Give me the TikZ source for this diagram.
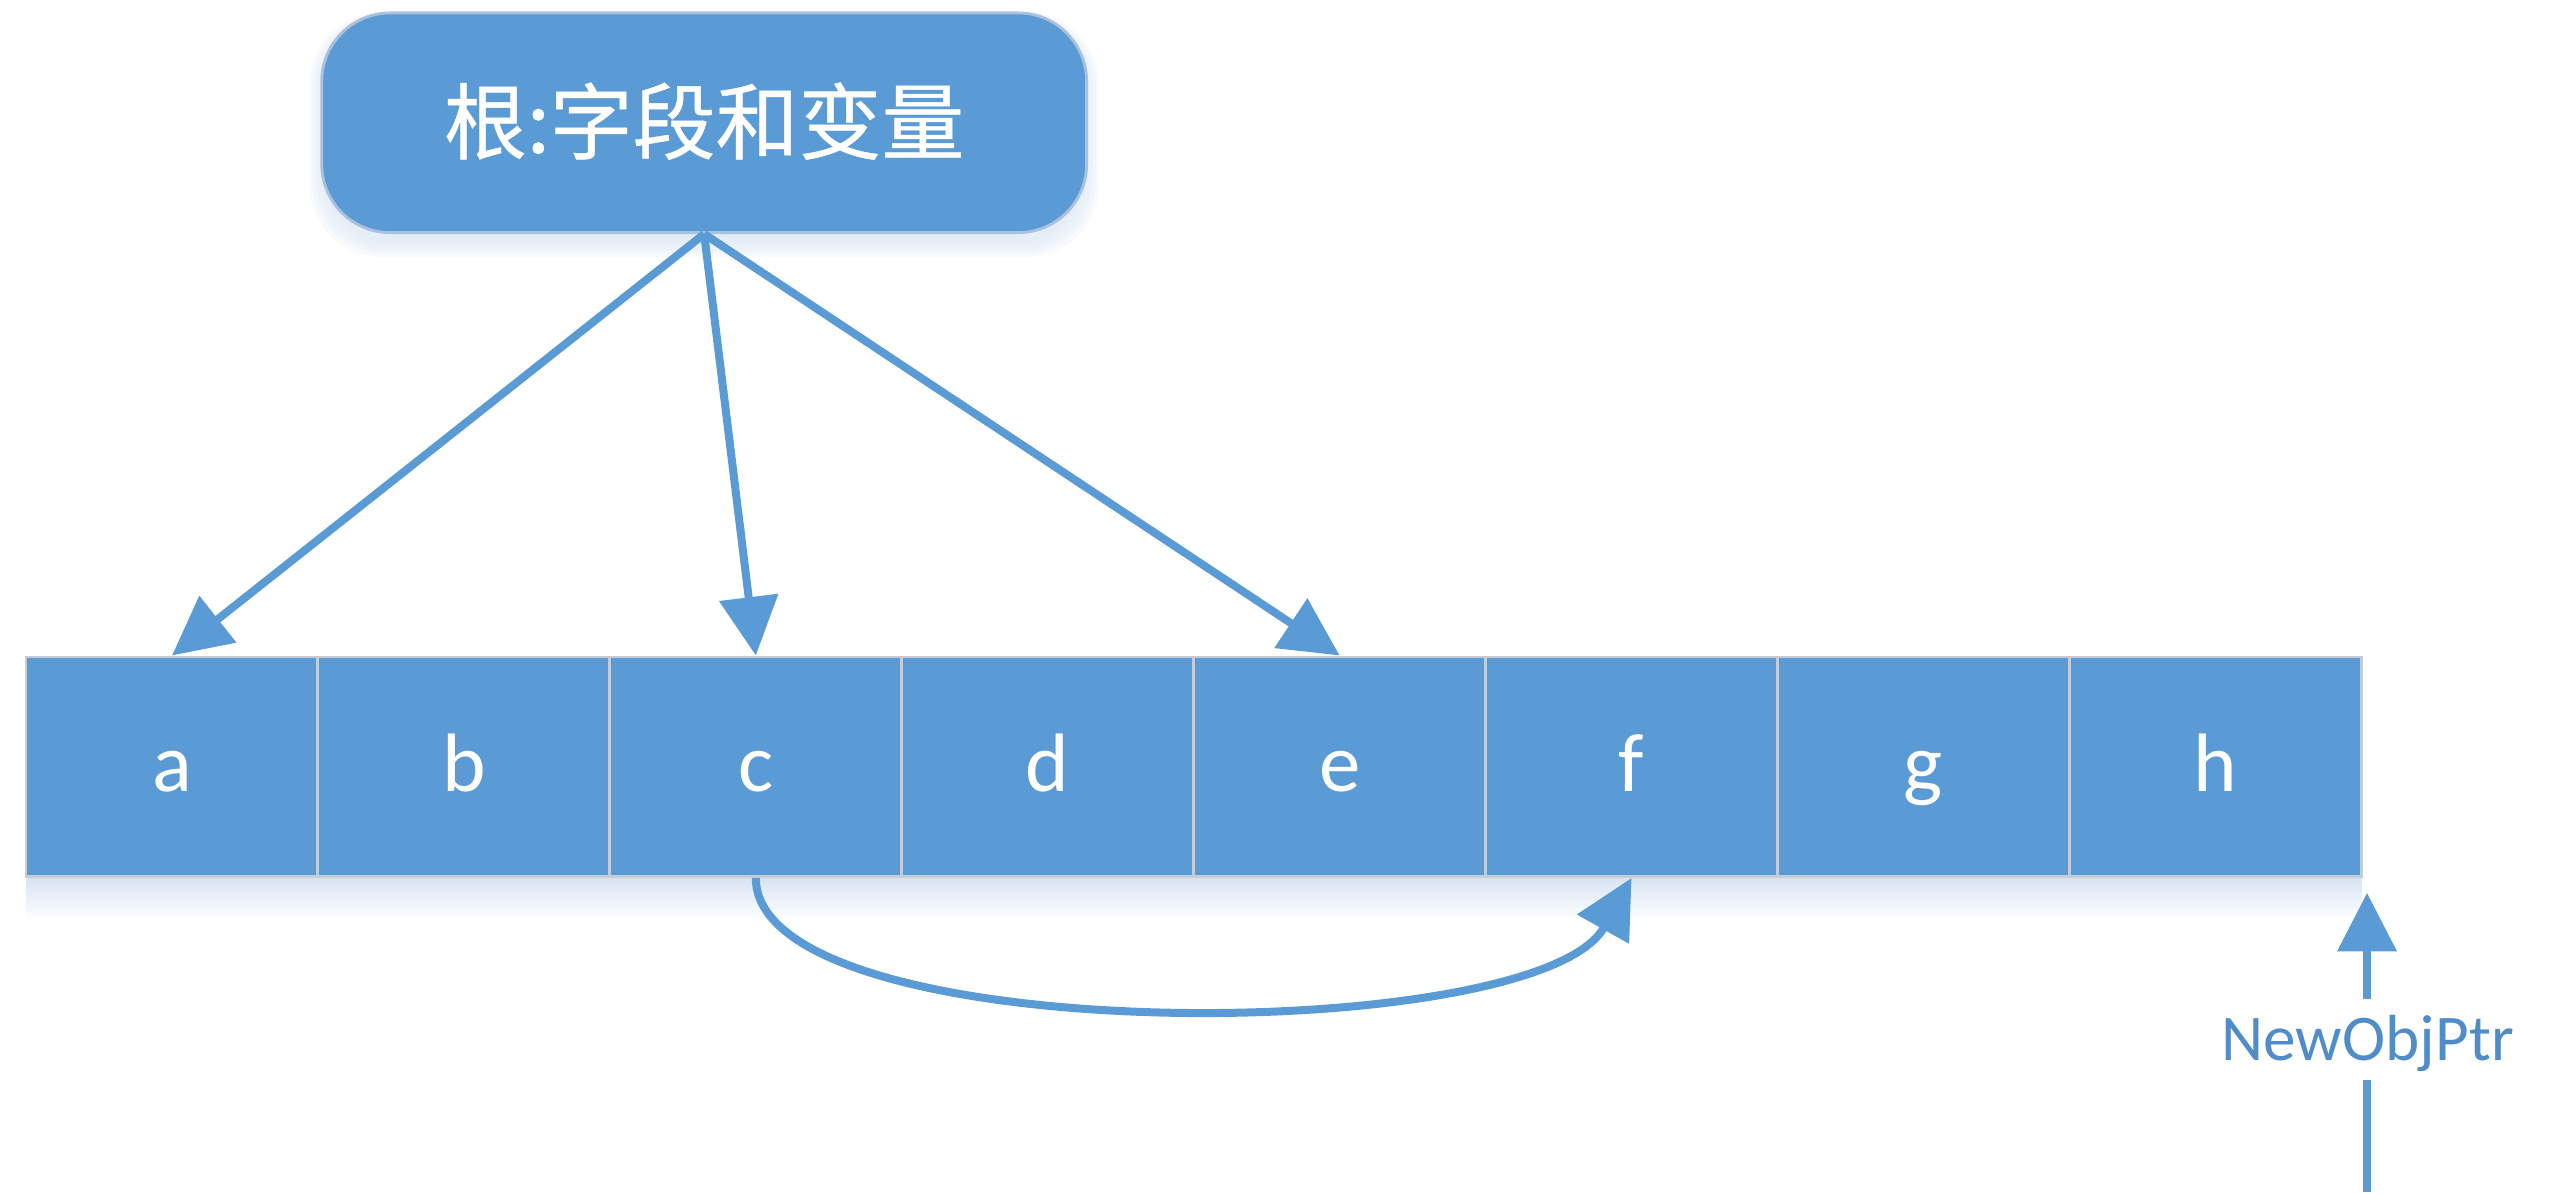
\documentclass[tikz,border=0pt]{standalone}
\usepackage{fontspec}
\setmainfont{Carlito}
\newfontfamily\cjk[FakeBold=0.6]{Noto Sans CJK SC}
\usetikzlibrary{arrows.meta}
\definecolor{ob}{HTML}{5B9BD5}
\definecolor{cellline}{HTML}{C3CCD8}
\definecolor{shad}{HTML}{D6E3F2}
\definecolor{rootline}{HTML}{A9C0DE}
\definecolor{ptrtxt}{HTML}{4F8CC9}
\begin{document}
\begin{tikzpicture}[x=0.01cm,y=-0.01cm,
  cellbox/.style={draw=cellline, line width=0.5pt, fill=ob, minimum width=1.795cm,
    minimum height=1.35cm, inner sep=0pt, text=white, text height=0.31cm, text depth=0pt,
    font=\fontsize{14.5}{16}\selectfont},
  rootbox/.style={draw=rootline, line width=0.5pt, fill=ob, minimum width=4.7cm,
    minimum height=1.35cm, rounded corners=0.42cm, inner sep=0pt, text=white,
    text height=0.45cm, text depth=0.08cm,
    font=\cjk\fontsize{14.5}{17}\selectfont},
  arr/.style={draw=ob, line width=1.4pt, -{Triangle[length=0.36cm,width=0.355cm]}},
  ptrline/.style={draw=ob, line width=1.4pt},
  ptrlabel/.style={text=ptrtxt, inner sep=0pt, anchor=base, font=\fontsize{11.4}{13}\selectfont},
  softshadow/.style={fill=shad, opacity=0.18, rounded corners=0.45cm}
]
\useasboundingbox (0,0) rectangle (1568,734);
% soft shadows
\foreach \k in {0,2,4,6,8}
  \fill[softshadow] ({198-\k},{10-\k*0.3}) rectangle ({668+\k},{150+\k});
\shade[top color=shad, bottom color=white] (16,539) rectangle (1452,566);
% root box
\node[rootbox] (root) at (433,75.5) {根:字段和变量};
% cells
\foreach \n [count=\i from 0] in {a,b,c,d,e,f,g,h}
  \node[cellbox] (\n) at ({105.75+179.5*\i},471.5) {\n};
% arrows from root
\draw[arr] (root.south) -- (a.north);
\draw[arr] (root.south) -- (c.north);
\draw[arr] (root.south) -- (e.north);
% curved arrow c -> f
\draw[arr] (c.south) .. controls (465,646) and (945,644) .. (f.south);
% NewObjPtr
\node[ptrlabel] (ptr) at (1456,652) {NewObjPtr};
\coordinate (pbot) at (1455.5,733);
\coordinate (plow) at (1455.5,664);
\coordinate (phigh) at (1455.5,614);
\coordinate (ptip) at (1455.5,549);
\draw[ptrline] (pbot) -- (plow);
\draw[arr] (phigh) -- (ptip);
\end{tikzpicture}
\end{document}
